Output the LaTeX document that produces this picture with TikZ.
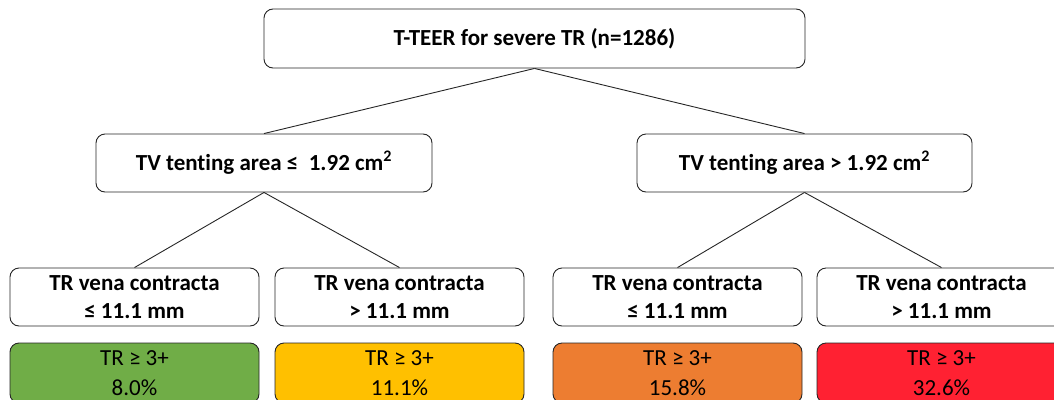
\documentclass[tikz,border=0pt]{standalone}
\usepackage{fontspec}
\setmainfont{Carlito}[Ligatures=NoCommon]
\definecolor{rgreen}{HTML}{70AD47}
\definecolor{ramber}{HTML}{FFC000}
\definecolor{rorange}{HTML}{ED7D31}
\definecolor{rred}{HTML}{FF2132}

\begin{document}
\begin{tikzpicture}[x=1pt,y=-1pt,
	box/.style={draw=black!85, line width=0.9pt, rounded corners=9pt, fill=white,
		align=center, inner sep=0pt, font=\bfseries\fontsize{23}{28}\selectfont},
	result/.style={box, font=\fontsize{23}{29.5}\selectfont},
	link/.style={draw=black!85, line width=0.9pt}]
\clip (0,0) rectangle (1054,399);
%========================================
% Root
%========================================
\node[box, minimum width=541pt, minimum height=59pt] (root) at (534.5,38.5)
	{T-TEER for severe TR (n=1286)};
%========================================
% Split on tenting area
%========================================
\node[box, minimum width=336pt, minimum height=58pt] (tentlow) at (264,163)
	{TV tenting area ≤\ \ 1.92 cm\textsuperscript{2}};
\node[box, minimum width=335pt, minimum height=58pt] (tenthigh) at (804.5,163)
	{TV tenting area > 1.92 cm\textsuperscript{2}};
%========================================
% Split on vena contracta
%========================================
\node[box, minimum width=249pt, minimum height=58pt] (vcA) at (134.5,297)
	{TR vena contracta\\≤ 11.1 mm};
\node[box, minimum width=249pt, minimum height=58pt] (vcB) at (399.5,297)
	{TR vena contracta\\> 11.1 mm};
\node[box, minimum width=249pt, minimum height=58pt] (vcC) at (677.5,297)
	{TR vena contracta\\≤ 11.1 mm};
\node[box, minimum width=249pt, minimum height=58pt] (vcD) at (941.5,297)
	{TR vena contracta\\> 11.1 mm};
%========================================
% Outcome: residual TR >= 3+
%========================================
\node[result, fill=rgreen, minimum width=249pt, minimum height=60pt] (outA) at (134.5,373)
	{TR ≥ 3+\\8.0\%};
\node[result, fill=ramber, minimum width=249pt, minimum height=60pt] (outB) at (399.5,373)
	{TR ≥ 3+\\11.1\%};
\node[result, fill=rorange, minimum width=249pt, minimum height=60pt] (outC) at (677.5,373)
	{TR ≥ 3+\\15.8\%};
\node[result, fill=rred, minimum width=249pt, minimum height=60pt] (outD) at (941.5,373)
	{TR ≥ 3+\\32.6\%};
% Branches
\draw[link] (root.south) -- (tentlow.north);
\draw[link] (root.south) -- (tenthigh.north);
\draw[link] (tentlow.south) -- (vcA.north);
\draw[link] (tentlow.south) -- (vcB.north);
\draw[link] (tenthigh.south) -- (vcC.north);
\draw[link] (tenthigh.south) -- (vcD.north);
\end{tikzpicture}
\end{document}
